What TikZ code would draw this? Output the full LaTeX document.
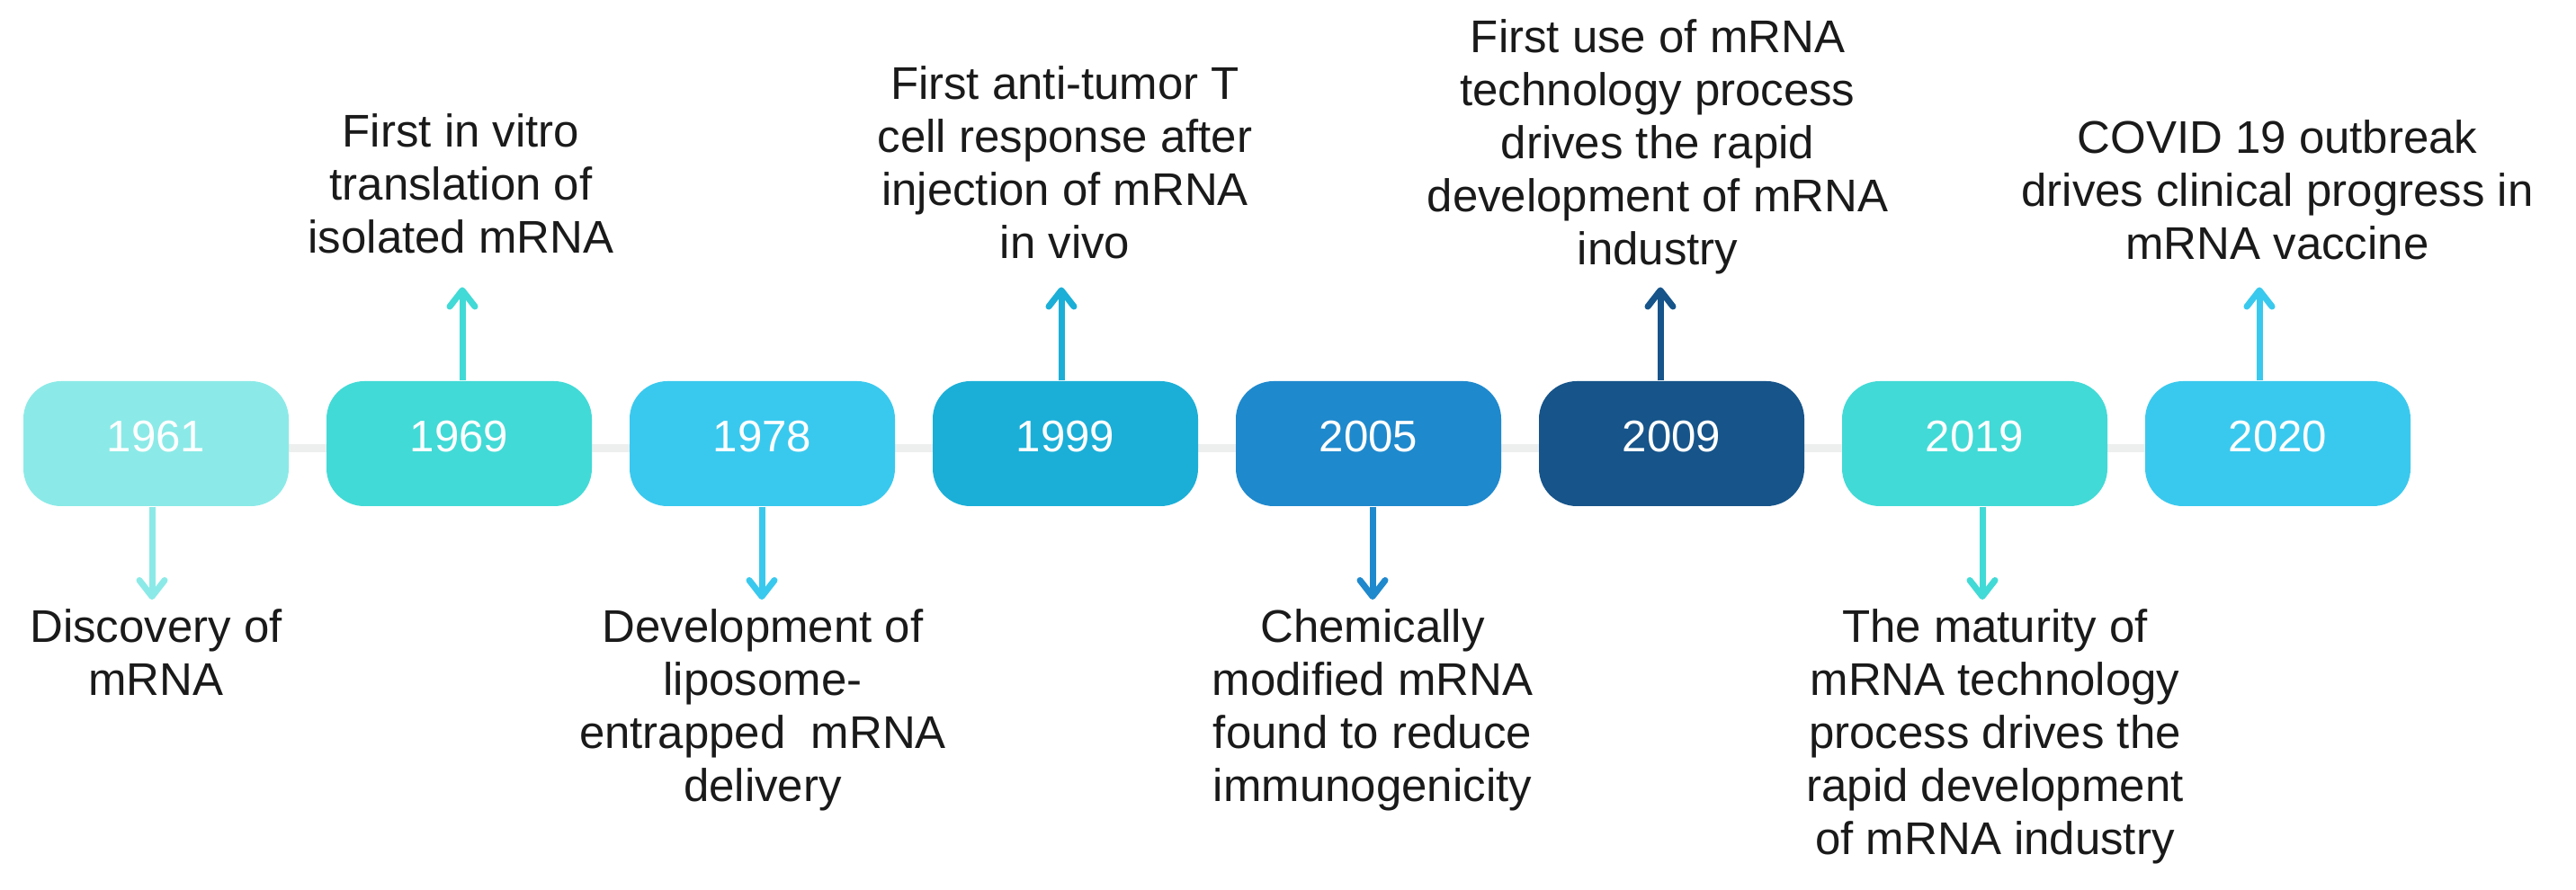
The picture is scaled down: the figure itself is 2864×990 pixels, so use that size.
\documentclass[tikz,border=0pt]{standalone}
\usepackage{fontspec}
\setmainfont{Liberation Sans}
\usepackage{tikz}
\usetikzlibrary{arrows.meta,backgrounds}
\usepackage{xcolor}
\definecolor{c1961}{HTML}{8BEAE7}
\definecolor{c1969}{HTML}{42DAD6}
\definecolor{c1978}{HTML}{3AC9EE}
\definecolor{c1999}{HTML}{1BAFD7}
\definecolor{c2005}{HTML}{1F89CD}
\definecolor{c2009}{HTML}{16548A}
\definecolor{c2019}{HTML}{42DAD6}
\definecolor{c2020}{HTML}{3AC9EE}
\definecolor{rail}{HTML}{EDEFEF}
\definecolor{ink}{HTML}{1A1A1A}

\begin{document}
\begin{tikzpicture}[x=0.1mm, y=-0.1mm, >={Straight Barb[length=1.8mm,width=2.8mm,round]},
  yearbox/.style={fill=#1, rounded corners=4.2mm, minimum width=29.5mm, minimum height=13.9mm,
    inner sep=0pt, text=white, text depth=1.6mm, font=\fontsize{14}{16}\selectfont},
  event/.style={anchor=north, align=center, inner sep=0pt, text=ink,
    font=\fontsize{14.5}{16.8}\selectfont},
  link/.style={->, line width=0.7mm, draw=#1}]
  \useasboundingbox (0,0) rectangle (2864,990);

  % year boxes along the rail
  \foreach \yr [count=\i from 0] in {1961,1969,1978,1999,2005,2009,2019,2020}{
    \node[yearbox=c\yr] (y\yr) at (173.5+337*\i,493.5) {\yr};
  }
  \begin{scope}[on background layer]
    \draw[line width=0.9mm, rail] ([yshift=-0.5mm]y1961.center) -- ([yshift=-0.5mm]y2020.center);
  \end{scope}

  % events
  \node[event] (t1961) at (173.5,677) {Discovery of\\mRNA};
  \node[event] (t1969) at (512.5,126) {First in vitro\\translation of\\isolated mRNA};
  \node[event] (t1978) at (848,677) {Development of\\liposome-\\entrapped\ \ mRNA\\delivery};
  \node[event] (t1999) at (1184,73) {First anti-tumor T\\cell response after\\injection of mRNA\\in vivo};
  \node[event] (t2005) at (1526,677) {Chemically\\modified mRNA\\found to reduce\\immunogenicity};
  \node[event] (t2009) at (1843,21) {First use of mRNA\\technology process\\drives the rapid\\development of mRNA\\industry};
  \node[event] (t2019) at (2218,677) {The maturity of\\mRNA technology\\process drives the\\rapid development\\of mRNA industry};
  \node[event] (t2020) at (2532,133) {COVID 19 outbreak\\drives clinical progress in\\mRNA vaccine};

  % arrows from boxes to events
  \foreach \yr/\ax/\ay in {1961/169/667, 1969/514/319.5, 1978/847/667, 1999/1180/319.5,
                           2005/1526/667, 2009/1846/319.5, 2019/2204/667, 2020/2512/319.5}{
    \coordinate (a\yr) at (\ax,\ay);
  }
  \foreach \yr/\side in {1961/south,1969/north,1978/south,1999/north,
                         2005/south,2009/north,2019/south,2020/north}{
    \draw[link=c\yr] (y\yr.\side -| a\yr) -- (a\yr);
  }
\end{tikzpicture}
\end{document}
